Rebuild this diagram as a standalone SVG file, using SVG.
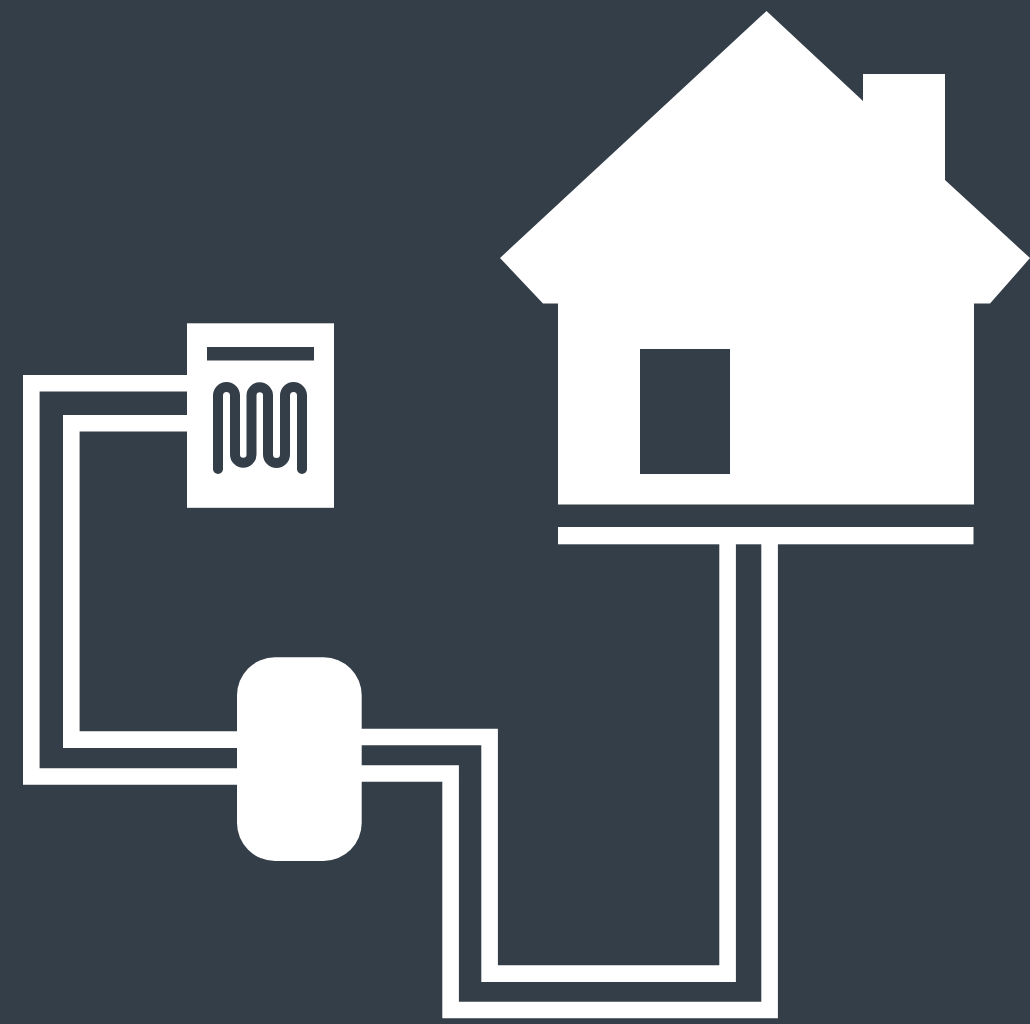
<svg xmlns="http://www.w3.org/2000/svg" width="1030" height="1024" viewBox="0 0 1030 1024">
  <style>
    .bg { fill: #343e49; }
    .solid { fill: #fff; }
    .pipe { fill: none; stroke: #fff; stroke-width: 16.6; stroke-linejoin: miter; }
    .coil { fill: none; stroke: #343e49; stroke-width: 10; stroke-linecap: round; }
  </style>
  <rect class="bg" width="1030" height="1024"/>
  <g id="connectors">
    <path class="pipe" d="M190 383.3H31.3V776.5H240"/>
    <path class="pipe" d="M190 423.3H71.3V739.6H240"/>
    <path class="pipe" d="M358 737H489.6V973.6H727.6V540"/>
    <path class="pipe" d="M358 773.5H450.6V1010H769.6V540"/>
  </g>
  <g id="house">
    <path class="solid" fill-rule="evenodd" d="M766.5 11L863 101V74H945V180L1030 258L990 303.5H974V504.5H558V303.5H543L500 258ZM640 349V474H730V349Z"/>
  </g>
  <g id="slab">
    <rect class="solid" x="558" y="527" width="415.500" height="17.300"/>
  </g>
  <g id="radiator">
    <rect class="solid" x="187" y="323.300" width="147" height="184.500"/>
    <rect class="bg" x="207" y="347" width="107" height="13.500"/>
    <path class="coil" d="M218 469V395.500A8.500 8.500 0 0 1 235 395.500V454.500A8.250 8.250 0 0 0 251.500 454.500V395.500A8.250 8.250 0 0 1 268 395.500V454.500A8.500 8.500 0 0 0 285 454.500V395.500A8.500 8.500 0 0 1 302 395.500V469"/>
  </g>
  <g id="pump">
    <rect class="solid" x="237" y="657.300" width="124.700" height="203.700" rx="38" ry="38"/>
  </g>
</svg>
